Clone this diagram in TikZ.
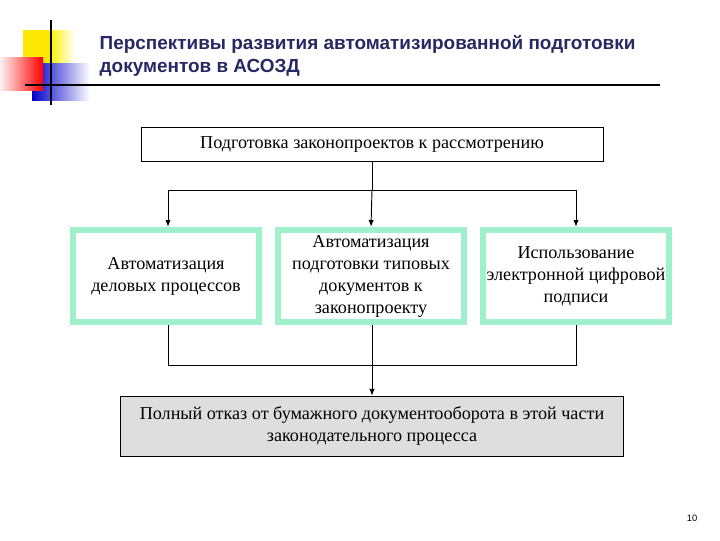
\documentclass[tikz,border=0pt]{standalone}
\usepackage{fontspec}
\setmainfont{Liberation Serif}
\newfontfamily\titlefont{Liberation Sans}
\usetikzlibrary{arrows.meta}
\definecolor{mint}{RGB}{160,240,205}
\definecolor{navy}{RGB}{40,40,100}
\definecolor{grayfill}{RGB}{222,222,222}
\tikzset{
  box/.style={draw=mint,line width=5pt,fill=white,align=center,font=\fontsize{13.6}{16.5}\selectfont,inner sep=1pt},
  plain/.style={draw,line width=0.6pt,align=center,font=\fontsize{13.6}{16}\selectfont},
  conn/.style={line width=0.7pt},
  arr/.style={conn,-{Latex[length=5pt,width=4pt]}}
}
\begin{document}
\begin{tikzpicture}[x=0.75pt,y=-0.75pt]
\useasboundingbox (0,0) rectangle (720,540);
% decoration
\fill[yellow!90!orange] (23,30) rectangle (70,63);
\shade[left color=yellow!90!orange,right color=white] (50,30) rectangle (75,63);
\shade[left color=blue!80!black,right color=white] (32,63) rectangle (90,100);
\shade[left color=red!5,right color=red] (0,57) rectangle (43,90);
\draw[line width=1.2pt] (51,20) -- (51,105);
\draw[line width=1.2pt] (25,85) -- (660,85);
\node[anchor=west,align=left,text=navy,font=\titlefont\bfseries\fontsize{14.2}{17.5}\selectfont] (title) at (95,56) {Перспективы развития автоматизированной подготовки\\документов в АСОЗД};
% boxes
\node[plain,minimum width=462*0.75pt,minimum height=34*0.75pt] (top) at (372,144) {Подготовка законопроектов к рассмотрению};
\node[box,minimum width=186*0.75pt,minimum height=92*0.75pt] (b1) at (166,276) {Автоматизация\\деловых процессов};
\node[box,minimum width=186*0.75pt,minimum height=92*0.75pt] (b2) at (371,276) {Автоматизация\\подготовки типовых\\документов к\\законопроекту};
\node[box,minimum width=186*0.75pt,minimum height=92*0.75pt] (b3) at (576,276) {Использование\\электронной цифровой\\подписи};
\node[plain,fill=grayfill,minimum width=503*0.75pt,minimum height=60*0.75pt] (bot) at (372,426) {Полный отказ от бумажного документооборота в этой части\\законодательного процесса};
\node[font=\titlefont\fontsize{7}{8}\selectfont] (pg) at (692,518) {10};
% connectors
\coordinate (s) at (372,190);
\coordinate (l) at (168,190);
\coordinate (r) at (576,190);
\draw[conn] (top.south) -- (s);
\draw[conn] (l) -- (r);
\draw[arr] (l) -- (l|-b1.north);
\draw[arr] (s) -- (b2.north);
\draw[arr] (r) -- (r|-b3.north);
\coordinate (m) at (372,365);
\draw[conn] (b1.south-|l) -- (168,365) -- (576,365) -- (b3.south-|r);
\draw[conn] (b2.south-|m) -- (m);
\draw[arr] (m) -- (bot.north);
\end{tikzpicture}
\end{document}
